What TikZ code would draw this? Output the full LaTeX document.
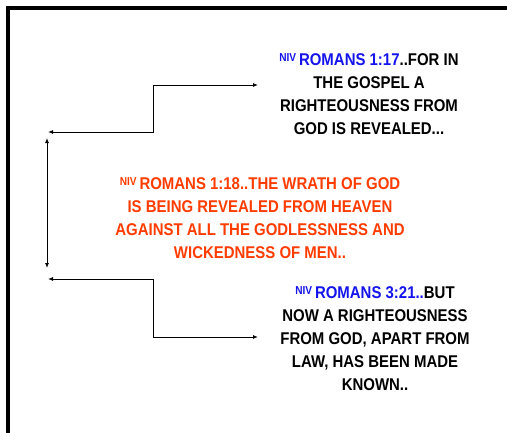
\documentclass[tikz,border=0pt]{standalone}
\usepackage{fontspec}
\setmainfont{Liberation Sans}
\newfontfamily\versefont[FakeStretch=0.88]{Liberation Sans}
\usetikzlibrary{arrows.meta}
\definecolor{vblue}{RGB}{20,20,235}
\definecolor{vred}{RGB}{255,60,0}
\tikzset{
  verse/.style={align=center, inner sep=0pt, font=\versefont\bfseries\fontsize{17}{23}\selectfont},
  conn/.style={line width=0.9pt, {Latex[length=5pt,width=4pt]}-{Latex[length=5pt,width=4pt]}},
  frameline/.style={line width=4pt}
}
\newcommand{\niv}{\raisebox{4pt}{\fontsize{11.5}{11.5}\selectfont NIV}\,}
\begin{document}
\begin{tikzpicture}[x=1pt,y=-1pt]
\useasboundingbox (0,0) rectangle (507,432);
% frame (cut at right and bottom)
\draw[frameline] (8,440) -- (8,8) -- (515,8);
% texts
\node[verse] (t1) at (369,94) {\textcolor{vblue}{\niv ROMANS 1:17}..FOR IN\\THE GOSPEL A\\RIGHTEOUSNESS FROM\\GOD IS REVEALED...};
\node[verse, text=vred] (t2) at (260,218) {\niv ROMANS 1:18..THE WRATH OF GOD\\IS BEING REVEALED FROM HEAVEN\\AGAINST ALL THE GODLESSNESS AND\\WICKEDNESS OF MEN..};
\node[verse] (t3) at (375,339) {\textcolor{vblue}{\niv ROMANS 3:21..}BUT\\NOW A RIGHTEOUSNESS\\FROM GOD, APART FROM\\LAW, HAS BEEN MADE\\KNOWN..};
% connector end points
\coordinate (L1) at (48,132);
\coordinate (K1) at (153,132);
\coordinate (R1) at (258,85);
\coordinate (L2) at (48,279);
\coordinate (K2) at (153,279);
\coordinate (R2) at (258,337);
\coordinate (V1) at (47,138);
\coordinate (V2) at (47,268);
\draw[conn] (L1) -- (K1) |- (R1);
\draw[conn] (L2) -- (K2) |- (R2);
\draw[conn] (V1) -- (V2);
\end{tikzpicture}
\end{document}
